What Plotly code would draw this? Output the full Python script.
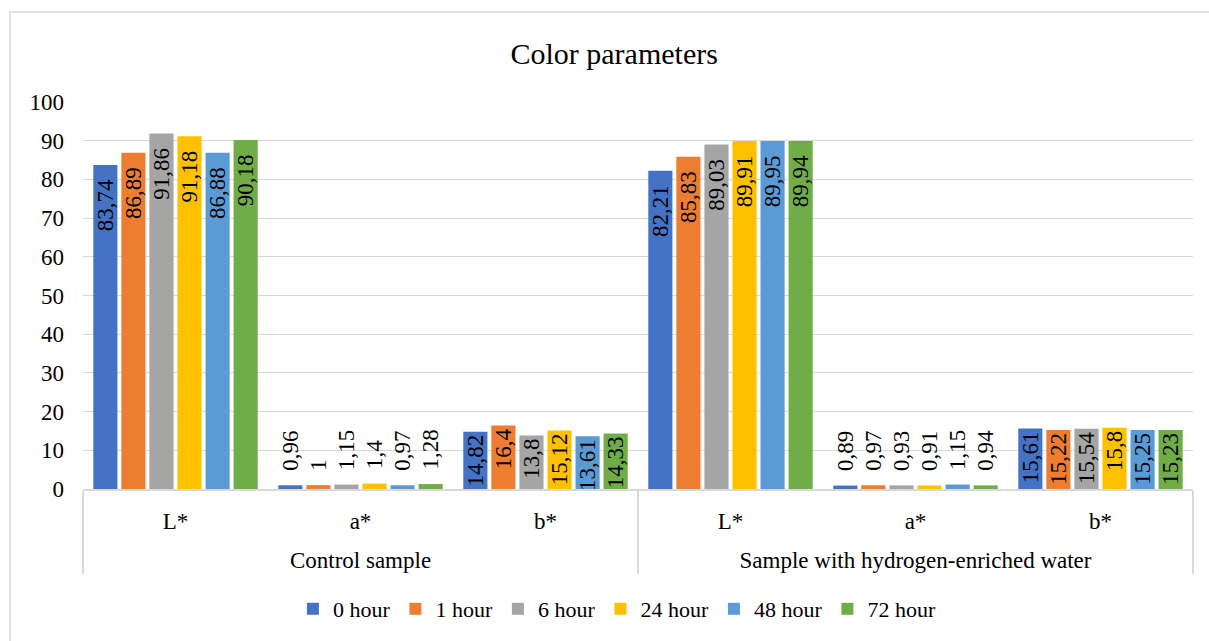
import plotly.graph_objects as go

groups = ["Control sample", "Sample with hydrogen-enriched water"]
params = ["L*", "a*", "b*"]
series_names = ["0 hour", "1 hour", "6 hour", "24 hour", "48 hour", "72 hour"]
colors = ["#4472C4", "#ED7D31", "#A5A5A5", "#FFC000", "#5B9BD5", "#70AD47"]

# values per series: [Control L*, a*, b*, Hydrogen L*, a*, b*]
hour0 = [83.74, 0.96, 14.82, 82.21, 0.89, 15.61]
hour1 = [86.89, 1.00, 16.4, 85.83, 0.97, 15.22]
hour6 = [91.86, 1.15, 13.8, 89.03, 0.93, 15.54]
hour24 = [91.18, 1.4, 15.12, 89.91, 0.91, 15.8]
hour48 = [86.88, 0.97, 13.61, 89.95, 1.15, 15.25]
hour72 = [90.18, 1.28, 14.33, 89.94, 0.94, 15.23]
series_values = [hour0, hour1, hour6, hour24, hour48, hour72]

# axis labels are drawn at 23px inside a smaller base tick font, so that the
# leading line break on the outer level moves it down by a smaller step
SPAN = "<span style='font-size:23px'>{}</span>"
x_outer = ["<br>" + SPAN.format(g) for g in groups for _ in params]
x_inner = [SPAN.format(p) for _ in groups for p in params]
inner_plain = [p for _ in groups for p in params]
positions = ["inside" if p != "a*" else "outside" for p in inner_plain]

FONT = "Liberation Serif"
NB = "\u00a0"


def label(v, p):
    s = f"{v:g}".replace(".", ",")
    if p == "L*":
        return s + NB * 2
    if p == "a*":
        return NB * 2 + s
    return s


fig = go.Figure()
for name, col, vals in zip(series_names, colors, series_values):
    fig.add_trace(go.Bar(
        x=[x_outer, x_inner],
        y=vals,
        name=name,
        marker=dict(color=col, line=dict(width=0)),
        text=[label(v, p) for v, p in zip(vals, inner_plain)],
        textposition=positions,
        insidetextanchor="end",
        textangle=-90,
        constraintext="none",
        cliponaxis=False,
        textfont=dict(family=FONT, size=23, color="black"),
        insidetextfont=dict(family=FONT, size=23, color="black"),
        outsidetextfont=dict(family=FONT, size=23, color="black"),
    ))

# plot area: x 83..1193, y 102..489 px
L, R, T, B = 83, 16, 102, 152
pw = 1209 - L - R
ph = 641 - T - B

fig.update_layout(
    width=1209, height=641,
    margin=dict(l=L, r=R, t=T, b=B, autoexpand=False),
    paper_bgcolor="white", plot_bgcolor="white",
    barmode="group", bargap=0.09, bargroupgap=0.14,
    font=dict(family=FONT, size=23, color="black"),
    title=dict(text="Color parameters", x=0.508, xanchor="center",
               y=1 - 53 / 641, yanchor="middle",
               font=dict(family=FONT, size=30, color="black")),
    legend=dict(orientation="h", x=0.481, xanchor="center",
                y=-(609 - 489) / ph, yanchor="middle",
                font=dict(family=FONT, size=22, color="black"),
                itemwidth=30, traceorder="normal"),
    showlegend=True,
)
fig.update_yaxes(range=[0, 100], dtick=10, showgrid=True, gridcolor="#D9D9D9",
                 gridwidth=1, zeroline=False, showline=False,
                 ticks="", ticklabelstandoff=18,
                 tickfont=dict(family=FONT, size=23, color="black"))
fig.update_xaxes(type="multicategory", showline=True, linecolor="#D9D9D9",
                 linewidth=1.5, showgrid=False, showdividers=True,
                 dividercolor="#D9D9D9", dividerwidth=1.5, ticks="",
                 ticklabelstandoff=14,
                 tickfont=dict(family=FONT, size=20, color="black"))

# outer chart-area border (left and top visible)
fig.add_shape(type="rect", xref="paper", yref="paper",
              x0=(10 - L) / pw, x1=(1215 - L) / pw,
              y0=-(650 - 489) / ph, y1=(489 - 12) / ph,
              line=dict(color="#D9D9D9", width=1.5), layer="below")

fig.write_html("out.html", config={"displayModeBar": False},
               post_script="document.body.style.margin='0';")
